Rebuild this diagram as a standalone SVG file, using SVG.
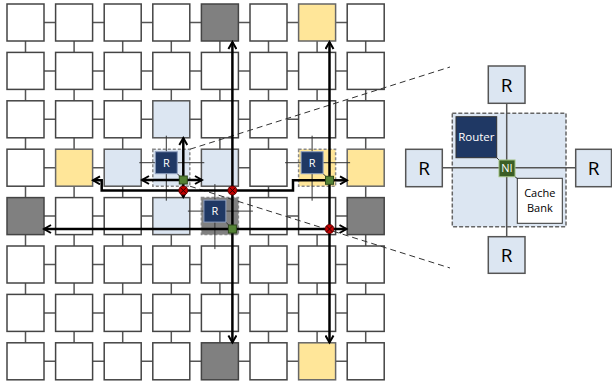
<svg xmlns="http://www.w3.org/2000/svg" width="612" height="388" viewBox="0 0 612 388">
<defs>
<style>
.t{fill:#fff;stroke:#444;stroke-width:1.5}
.lb{fill:#dce6f2;stroke:#555;stroke-width:1.5}
.yl{fill:#ffe699;stroke:#666;stroke-width:1.5}
.dg{fill:#808080;stroke:#444;stroke-width:1.5}
.dsh{stroke:#888;stroke-dasharray:3,2;stroke-width:1.5}
.lk{stroke:#555;stroke-width:1.5;fill:none}
.rl{stroke:#333;stroke-width:1;fill:none}
.rb{fill:#1f3864;stroke:#8fa0c0;stroke-width:1}
.ni{fill:#548235;stroke:#2e4a1c;stroke-width:1}
.ar{stroke:#000;stroke-width:2.5;fill:none}
.rx{fill:#c00000;stroke:#500;stroke-width:0.8}
.x{stroke:#300;stroke-width:1}
.wt{font-family:"Open Sans","Liberation Sans",sans-serif;fill:#fff;text-anchor:middle}
.bt{font-family:"Open Sans","Liberation Sans",sans-serif;fill:#000;text-anchor:middle}
.zoom{stroke:#333;stroke-width:1;stroke-dasharray:6,4;fill:none}
.ir{fill:#dce6f2;stroke:#555;stroke-width:1.5}
.il{stroke:#555;stroke-width:1.5}
</style>
<marker id="ah" markerWidth="10" markerHeight="10" refX="8" refY="5" orient="auto" markerUnits="userSpaceOnUse">
<path d="M1,1 L8,5 L1,9" fill="none" stroke="#000" stroke-width="2"/>
</marker>
</defs>
<rect width="612" height="388" fill="#fff"/>

<g id="links" class="lk">
<line x1="25.5" y1="22.5" x2="365.7" y2="22.5"/>
<line x1="25.5" y1="70.9" x2="365.7" y2="70.9"/>
<line x1="25.5" y1="119.3" x2="365.7" y2="119.3"/>
<line x1="25.5" y1="167.7" x2="122.7" y2="167.7"/>
<line x1="219.9" y1="167.7" x2="268.5" y2="167.7"/>
<line x1="25.5" y1="216.1" x2="171.3" y2="216.1"/>
<line x1="268.5" y1="216.1" x2="365.7" y2="216.1"/>
<line x1="25.5" y1="264.5" x2="365.7" y2="264.5"/>
<line x1="25.5" y1="312.9" x2="365.7" y2="312.9"/>
<line x1="25.5" y1="361.3" x2="365.7" y2="361.3"/>
<line x1="25.5" y1="22.5" x2="25.5" y2="361.3"/>
<line x1="74.1" y1="22.5" x2="74.1" y2="361.3"/>
<line x1="122.7" y1="22.5" x2="122.7" y2="361.3"/>
<line x1="171.3" y1="22.5" x2="171.3" y2="119.3"/>
<line x1="171.3" y1="216.1" x2="171.3" y2="361.3"/>
<line x1="219.9" y1="22.5" x2="219.9" y2="167.7"/>
<line x1="219.9" y1="264.5" x2="219.9" y2="361.3"/>
<line x1="268.5" y1="22.5" x2="268.5" y2="361.3"/>
<line x1="317.1" y1="22.5" x2="317.1" y2="119.3"/>
<line x1="317.1" y1="216.1" x2="317.1" y2="361.3"/>
<line x1="365.7" y1="22.5" x2="365.7" y2="361.3"/>
</g>

<g id="r0c0"><rect class="t" x="7" y="4" width="37" height="37"/></g>
<g id="r0c1"><rect class="t" x="55.6" y="4" width="37" height="37"/></g>
<g id="r0c2"><rect class="t" x="104.2" y="4" width="37" height="37"/></g>
<g id="r0c3"><rect class="t" x="152.8" y="4" width="37" height="37"/></g>
<g id="r0c4"><rect class="dg" x="201.4" y="4" width="37" height="37"/></g>
<g id="r0c5"><rect class="t" x="250" y="4" width="37" height="37"/></g>
<g id="r0c6"><rect class="yl" x="298.6" y="4" width="37" height="37"/></g>
<g id="r0c7"><rect class="t" x="347.2" y="4" width="37" height="37"/></g>

<g id="r1c0"><rect class="t" x="7" y="52.4" width="37" height="37"/></g>
<g id="r1c1"><rect class="t" x="55.6" y="52.4" width="37" height="37"/></g>
<g id="r1c2"><rect class="t" x="104.2" y="52.4" width="37" height="37"/></g>
<g id="r1c3"><rect class="t" x="152.8" y="52.4" width="37" height="37"/></g>
<g id="r1c4"><rect class="t" x="201.4" y="52.4" width="37" height="37"/></g>
<g id="r1c5"><rect class="t" x="250" y="52.4" width="37" height="37"/></g>
<g id="r1c6"><rect class="t" x="298.6" y="52.4" width="37" height="37"/></g>
<g id="r1c7"><rect class="t" x="347.2" y="52.4" width="37" height="37"/></g>

<g id="r2c0"><rect class="t" x="7" y="100.8" width="37" height="37"/></g>
<g id="r2c1"><rect class="t" x="55.6" y="100.8" width="37" height="37"/></g>
<g id="r2c2"><rect class="t" x="104.2" y="100.8" width="37" height="37"/></g>
<g id="r2c3"><rect class="lb" x="152.8" y="100.8" width="37" height="37"/></g>
<g id="r2c4"><rect class="t" x="201.4" y="100.8" width="37" height="37"/></g>
<g id="r2c5"><rect class="t" x="250" y="100.8" width="37" height="37"/></g>
<g id="r2c6"><rect class="t" x="298.6" y="100.8" width="37" height="37"/></g>
<g id="r2c7"><rect class="t" x="347.2" y="100.8" width="37" height="37"/></g>

<g id="r3c0"><rect class="t" x="7" y="149.2" width="37" height="37"/></g>
<g id="r3c1"><rect class="yl" x="55.6" y="149.2" width="37" height="37"/></g>
<g id="r3c2"><rect class="lb" x="104.2" y="149.2" width="37" height="37"/></g>
<g id="r3c3"><rect class="lb dsh" x="152.8" y="149.2" width="37" height="37"/></g>
<g id="r3c4"><rect class="lb" x="201.4" y="149.2" width="37" height="37"/></g>
<g id="r3c5"><rect class="t" x="250" y="149.2" width="37" height="37"/></g>
<g id="r3c6"><rect class="yl dsh" x="298.6" y="149.2" width="37" height="37"/></g>
<g id="r3c7"><rect class="yl" x="347.2" y="149.2" width="37" height="37"/></g>

<g id="r4c0"><rect class="dg" x="7" y="197.6" width="37" height="37"/></g>
<g id="r4c1"><rect class="t" x="55.6" y="197.6" width="37" height="37"/></g>
<g id="r4c2"><rect class="t" x="104.2" y="197.6" width="37" height="37"/></g>
<g id="r4c3"><rect class="lb" x="152.8" y="197.6" width="37" height="37"/></g>
<g id="r4c4"><rect class="dg dsh" x="201.4" y="197.6" width="37" height="37"/></g>
<g id="r4c5"><rect class="t" x="250" y="197.6" width="37" height="37"/></g>
<g id="r4c6"><rect class="t" x="298.6" y="197.6" width="37" height="37"/></g>
<g id="r4c7"><rect class="dg" x="347.2" y="197.6" width="37" height="37"/></g>

<g id="r5c0"><rect class="t" x="7" y="246" width="37" height="37"/></g>
<g id="r5c1"><rect class="t" x="55.6" y="246" width="37" height="37"/></g>
<g id="r5c2"><rect class="t" x="104.2" y="246" width="37" height="37"/></g>
<g id="r5c3"><rect class="t" x="152.8" y="246" width="37" height="37"/></g>
<g id="r5c4"><rect class="t" x="201.4" y="246" width="37" height="37"/></g>
<g id="r5c5"><rect class="t" x="250" y="246" width="37" height="37"/></g>
<g id="r5c6"><rect class="t" x="298.6" y="246" width="37" height="37"/></g>
<g id="r5c7"><rect class="t" x="347.2" y="246" width="37" height="37"/></g>

<g id="r6c0"><rect class="t" x="7" y="294.4" width="37" height="37"/></g>
<g id="r6c1"><rect class="t" x="55.6" y="294.4" width="37" height="37"/></g>
<g id="r6c2"><rect class="t" x="104.2" y="294.4" width="37" height="37"/></g>
<g id="r6c3"><rect class="t" x="152.8" y="294.4" width="37" height="37"/></g>
<g id="r6c4"><rect class="t" x="201.4" y="294.4" width="37" height="37"/></g>
<g id="r6c5"><rect class="t" x="250" y="294.4" width="37" height="37"/></g>
<g id="r6c6"><rect class="t" x="298.6" y="294.4" width="37" height="37"/></g>
<g id="r6c7"><rect class="t" x="347.2" y="294.4" width="37" height="37"/></g>

<g id="r7c0"><rect class="t" x="7" y="342.8" width="37" height="37"/></g>
<g id="r7c1"><rect class="t" x="55.6" y="342.8" width="37" height="37"/></g>
<g id="r7c2"><rect class="t" x="104.2" y="342.8" width="37" height="37"/></g>
<g id="r7c3"><rect class="t" x="152.8" y="342.8" width="37" height="37"/></g>
<g id="r7c4"><rect class="dg" x="201.4" y="342.8" width="37" height="37"/></g>
<g id="r7c5"><rect class="t" x="250" y="342.8" width="37" height="37"/></g>
<g id="r7c6"><rect class="yl" x="298.6" y="342.8" width="37" height="37"/></g>
<g id="r7c7"><rect class="t" x="347.2" y="342.8" width="37" height="37"/></g>

<g id="router-r3c3">
<line class="rl" x1="166.3" y1="135.7" x2="166.3" y2="200.7"/>
<line class="rl" x1="139.3" y1="162.7" x2="204.3" y2="162.7"/>
<line class="rl" x1="177.3" y1="173.7" x2="180" y2="176.5"/>
<rect class="rb" x="155.3" y="151.7" width="22" height="22"/>
<text class="wt" x="166.3" y="166.8" font-size="11">R</text>
</g>
<g id="router-r4c4">
<line class="rl" x1="214.9" y1="184.1" x2="214.9" y2="249.1"/>
<line class="rl" x1="187.9" y1="211.1" x2="252.9" y2="211.1"/>
<line class="rl" x1="225.9" y1="222.1" x2="229" y2="225.5"/>
<rect class="rb" x="203.9" y="200.1" width="22" height="22"/>
<text class="wt" x="214.9" y="215.2" font-size="11">R</text>
</g>
<g id="router-r3c6">
<line class="rl" x1="312.1" y1="135.7" x2="312.1" y2="200.7"/>
<line class="rl" x1="285.1" y1="162.7" x2="350.1" y2="162.7"/>
<line class="rl" x1="323.1" y1="173.7" x2="326" y2="176.6"/>
<rect class="rb" x="301.1" y="151.7" width="22" height="22"/>
<text class="wt" x="312.1" y="166.8" font-size="11">R</text>
</g>

<g id="connectors">
<line class="zoom" x1="190" y1="149.2" x2="450" y2="67"/>
<line class="zoom" x1="190" y1="186.2" x2="450" y2="268"/>
<line class="ar" x1="183.3" y1="180" x2="183.3" y2="138" marker-end="url(#ah)"/>
<line class="ar" x1="183.3" y1="180" x2="142" y2="180" marker-end="url(#ah)"/>
<line class="ar" x1="183.3" y1="180" x2="202" y2="180" marker-end="url(#ah)"/>
<line class="ar" x1="183.3" y1="180" x2="183.3" y2="197" marker-end="url(#ah)"/>
<line class="ar" x1="232.4" y1="229" x2="232.4" y2="42" marker-end="url(#ah)"/>
<line class="ar" x1="232.4" y1="229" x2="232.4" y2="342.5" marker-end="url(#ah)"/>
<line class="ar" x1="232.4" y1="229" x2="44" y2="229" marker-end="url(#ah)"/>
<line class="ar" x1="232.4" y1="229" x2="346.5" y2="229" marker-end="url(#ah)"/>
<line class="ar" x1="329.5" y1="180.3" x2="329.5" y2="42" marker-end="url(#ah)"/>
<line class="ar" x1="329.5" y1="180.3" x2="329.5" y2="342.5" marker-end="url(#ah)"/>
<line class="ar" x1="329.5" y1="180.3" x2="347" y2="180.3" marker-end="url(#ah)"/>
<polyline class="ar" points="329.5,180.3 293,180.3 293,190.5 101.7,190.5 101.7,180.3 93,180.3" marker-end="url(#ah)"/>
</g>

<g id="ni-r3c3"><rect class="ni" x="179.3" y="176" width="8" height="8"/></g>
<g id="ni-r4c4"><rect class="ni" x="228.4" y="225" width="8" height="8"/></g>
<g id="ni-r3c6"><rect class="ni" x="325.5" y="176.3" width="8" height="8"/></g>

<g id="conflict1"><circle class="rx" cx="183.3" cy="190.5" r="4.5"/><path class="x" d="M180.3,187.5 L186.3,193.5 M186.3,187.5 L180.3,193.5"/></g>
<g id="conflict2"><circle class="rx" cx="232.4" cy="190.5" r="4.5"/><path class="x" d="M229.4,187.5 L235.4,193.5 M235.4,187.5 L229.4,193.5"/></g>
<g id="conflict3"><circle class="rx" cx="329.5" cy="229" r="4.5"/><path class="x" d="M326.5,226 L332.5,232 M332.5,226 L326.5,232"/></g>

<g id="inset-tile">
<rect x="452.3" y="113.3" width="113.7" height="113.4" fill="#dce6f2" stroke="#666" stroke-width="1.5" stroke-dasharray="4,2"/>
</g>
<g id="inset-links">
<line class="il" x1="506.7" y1="103" x2="506.7" y2="237"/>
<line class="il" x1="442" y1="167.7" x2="576" y2="167.7"/>
<line class="rl" x1="496.7" y1="157.7" x2="500" y2="161"/>
<line class="rl" x1="514" y1="176" x2="518" y2="179"/>
</g>
<g id="inset-R-top"><rect class="ir" x="488.3" y="66" width="36.7" height="37.3"/><text class="bt" x="506.7" y="91.5" font-size="19">R</text></g>
<g id="inset-R-left"><rect class="ir" x="405.7" y="149.3" width="36.6" height="37.4"/><text class="bt" x="424" y="174.7" font-size="19">R</text></g>
<g id="inset-R-right"><rect class="ir" x="575.7" y="149.3" width="35.8" height="37.4"/><text class="bt" x="593.6" y="174.7" font-size="19">R</text></g>
<g id="inset-R-bottom"><rect class="ir" x="488.3" y="236.7" width="36.7" height="36.6"/><text class="bt" x="506.7" y="262" font-size="19">R</text></g>
<g id="inset-router"><rect x="456" y="116.7" width="40.7" height="41" fill="#1f3864" stroke="#333" stroke-width="1"/><text class="wt" x="476.3" y="141" font-size="11.5">Router</text></g>
<g id="inset-ni"><rect x="499" y="160" width="16" height="16.7" fill="#3b5e25" stroke="#9fbf80" stroke-width="1"/><text class="wt" x="507" y="172.3" font-size="11">NI</text></g>
<g id="inset-cache"><rect x="517.3" y="178.3" width="45" height="45" fill="#fff" stroke="#333" stroke-width="1"/><text class="bt" x="539.8" y="196.7" font-size="11">Cache</text><text class="bt" x="539.8" y="212.3" font-size="11">Bank</text></g>
</svg>
